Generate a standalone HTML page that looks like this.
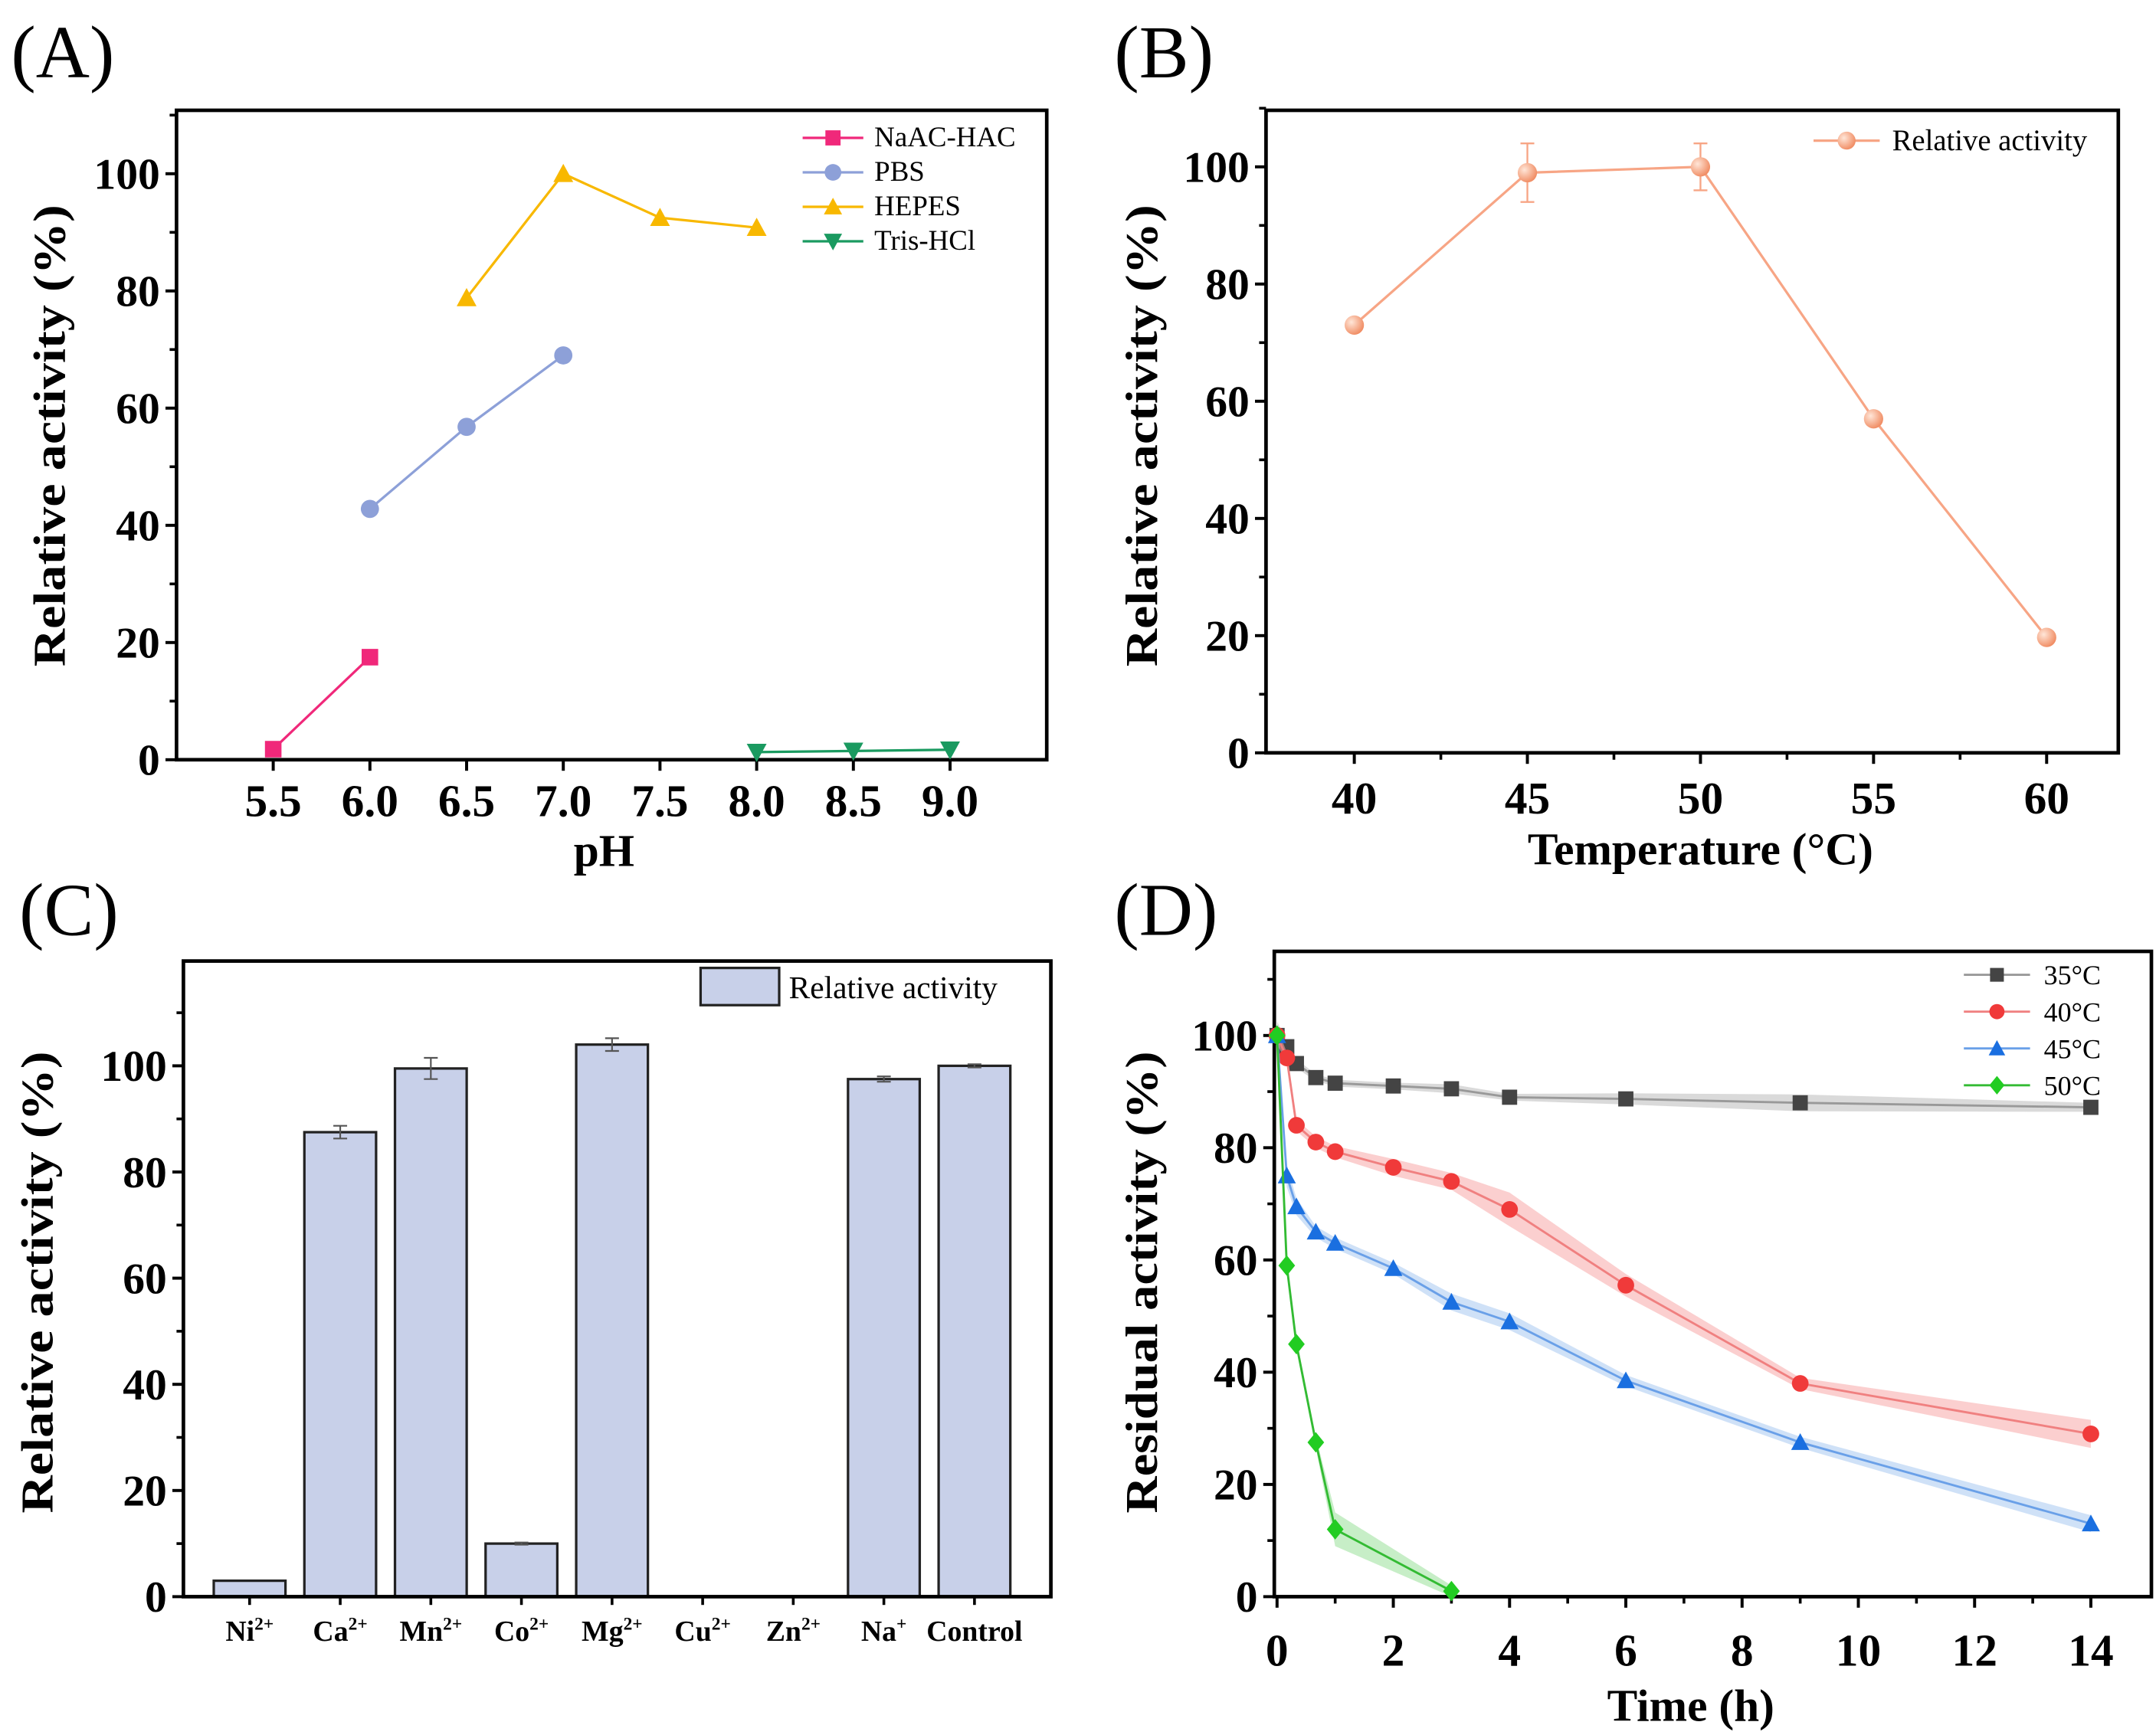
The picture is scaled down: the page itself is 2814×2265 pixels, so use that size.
<!DOCTYPE html>
<html><head><meta charset="utf-8"><style>
html,body{margin:0;padding:0;background:#fff}
svg{display:block}
text{font-family:"Liberation Serif",serif}
</style></head><body>
<svg id="fig" width="2814" height="2265" viewBox="0 0 1563.33 1258.33" xmlns="http://www.w3.org/2000/svg"></svg>
<script>
// ---- Panel A data ----
const aNaacX=[5.5,6.0], aNaacY=[1.8,17.5];
const aPbsX=[6.0,6.5,7.0], aPbsY=[42.8,56.8,69];
const aHepesX=[6.5,7.0,7.5,8.0], aHepesY=[78.8,100,92.5,90.8];
const aTrisX=[8.0,8.5,9.0], aTrisY=[1.3,1.5,1.7];
const aXTicks=[5.5,6.0,6.5,7.0,7.5,8.0,8.5,9.0];
const aXTickLabels=["5.5","6.0","6.5","7.0","7.5","8.0","8.5","9.0"];
const yTicks=[0,20,40,60,80,100];
// ---- Panel B data ----
const bTemps=[40,45,50,55,60], bAct=[73,99,100,57,19.7], bErr=[0.8,5,4,0.8,0.6];
const bXTicks=[40,45,50,55,60];
// ---- Panel C data ----
const cCats=["Ni","Ca","Mn","Co","Mg","Cu","Zn","Na","Control"];
const cSup=["2+","2+","2+","2+","2+","2+","2+","+",""];
const cVals=[3,87.5,99.5,10,104,0,0,97.5,100];
const cErrs=[0,1.2,2,0.2,1.2,0,0,0.5,0.3];
// ---- Panel D data ----
const dTimes=[0,0.167,0.333,0.667,1,2,3,4,6,9,14];
const d35=[100,98,95,92.5,91.5,91,90.5,89,88.7,88,87.2];
const d35e=[2.5,1,0.8,0.6,0.6,0.6,0.8,0.6,1,1.5,0.8];
const d40=[100,96,84,81,79.3,76.5,74,69,55.5,38,29];
const d40e=[1.5,1,1,1,1,1.5,1.5,3,2,1,2.5];
const d45=[100,75,69.5,65,63,58.5,52.5,49,38.5,27.5,13];
const d45e=[2,2,1.5,1,1,1,1.5,1.5,1,1,1.5];
const d50Times=[0,0.167,0.333,0.667,1,3];
const d50=[100,59,45,27.5,12,1];
const d50e=[1,1,1,1,3,1];
const dXTicks=[0,2,4,6,8,10,12,14];

const NS="http://www.w3.org/2000/svg";
const svg=document.getElementById('fig');
function mk(tag,attrs,parent){const e=document.createElementNS(NS,tag);for(const k in attrs)e.setAttribute(k,attrs[k]);(parent||svg).appendChild(e);return e;}
function lin(d0,d1,r0,r1){return v=>r0+(v-d0)*(r1-r0)/(d1-d0);}
function txt(x,y,s,size,opts,parent){const t=mk('text',Object.assign({x:x,y:y,'font-size':size},opts||{}),parent);t.textContent=s;return t;}

function frame(L,R,T,B,g){
  const r=mk('rect',{x:L,y:T,width:R-L,height:B-T,fill:'none',stroke:'#000','stroke-width':2.6},g);
  
  
}
function yAxis(g,L,ys,minors,lblX){
  yTicks.forEach(v=>{
    const l=mk('line',{x1:L-8,x2:L,y1:ys(v),y2:ys(v),stroke:'#000','stroke-width':2.2},g);
    
    
    const t=txt(L-12,ys(v)+11,String(v),32,{'text-anchor':'end','font-weight':'bold'},g);
    
    
  });
  minors.forEach(v=>{
    const l=mk('line',{x1:L-5,x2:L,y1:ys(v),y2:ys(v),stroke:'#000','stroke-width':2},g);
    
    
  });
}
function yTitle(g,x,y,s,len){
  const t=txt(0,0,s,33,{'text-anchor':'middle','font-weight':'bold',transform:`translate(${x},${y}) rotate(-90)`,textLength:len,lengthAdjust:'spacingAndGlyphs'},g);
  
  
}
function xTicks(g,B,xs,ticks,labels,ly,minor){
  ticks.forEach((v,i)=>{
    const l=mk('line',{x1:xs(v),x2:xs(v),y1:B,y2:B+8,stroke:'#000','stroke-width':2.2},g);
    
    
    const t=txt(xs(v),ly,labels[i],33,{'text-anchor':'middle','font-weight':'bold'},g);
    
    
  });
  (minor||[]).forEach(v=>{
    const l=mk('line',{x1:xs(v),x2:xs(v),y1:B,y2:B+5,stroke:'#000','stroke-width':2},g);
    
    
  });
}
function polyline(g,xs,ys,X,Y,color,w){
  const p=mk('polyline',{points:X.map((x,i)=>xs(x)+','+ys(Y[i])).join(' '),fill:'none',stroke:color,'stroke-width':w||1.8},g);
  return p;
}
function marker(g,shape,cx,cy,color,s){
  let e;
  if(shape==='sq') e=mk('rect',{x:cx-s,y:cy-s,width:2*s,height:2*s,fill:color},g);
  else if(shape==='ci') e=mk('circle',{cx:cx,cy:cy,r:s*1.1,fill:color},g);
  else if(shape==='tu') e=mk('polygon',{points:`${cx},${cy-s*1.2} ${cx-s*1.2},${cy+s} ${cx+s*1.2},${cy+s}`,fill:color},g);
  else if(shape==='td') e=mk('polygon',{points:`${cx},${cy+s*1.2} ${cx-s*1.2},${cy-s} ${cx+s*1.2},${cy-s}`,fill:color},g);
  else e=mk('polygon',{points:`${cx},${cy-s*1.35} ${cx+s*1.1},${cy} ${cx},${cy+s*1.35} ${cx-s*1.1},${cy}`,fill:color},g);
  return e;
}
function panelLabel(x,y,s){
  const t=txt(x,y,s,54,{});
  
  
}

// ===== Panel A =====
(function(){
  const g=mk('g',{});
  
  
  const L=128,R=759,T=80,B=551;
  const xs=lin(5,9.5,L,R), ys=lin(0,110,B,B-110*4.25);
  panelLabel(8,56,'(A)');
  frame(L,R,T,B,g);
  yAxis(g,L,ys,[10,30,50,70,90,110]);
  xTicks(g,B,xs,aXTicks,aXTickLabels,592);
  yTitle(g,47,316,'Relative activity (%)',335);
  const xt=txt(438,628,'pH',33,{'text-anchor':'middle','font-weight':'bold'},g);
  
  
  const series=[
    {n:'naac-hac',X:aNaacX,Y:aNaacY,c:'#f0287a',m:'sq',lab:'NaAC-HAC'},
    {n:'pbs',X:aPbsX,Y:aPbsY,c:'#8da0d8',m:'ci',lab:'PBS'},
    {n:'hepes',X:aHepesX,Y:aHepesY,c:'#f8b800',m:'tu',lab:'HEPES'},
    {n:'tris-hcl',X:aTrisX,Y:aTrisY,c:'#1a9a60',m:'td',lab:'Tris-HCl'}];
  series.forEach((s,k)=>{
    const pl=polyline(g,xs,ys,s.X,s.Y,s.c,1.8);
    
    
    s.X.forEach((x,i)=>{
      const m=marker(g,s.m,xs(x),ys(s.Y[i]),s.c,6);
      
      
    });
    const ly=100+k*25;
    const ll=mk('line',{x1:582,x2:626,y1:ly,y2:ly,stroke:s.c,'stroke-width':1.8},g);
    
    
    const lm=marker(g,s.m,604,ly,s.c,5.5);
    
    
    const lt=txt(634,ly+6,s.lab,20.5,{},g);
    
    
  });
})();

// ===== Panel B =====
(function(){
  const g=mk('g',{});
  
  
  const L=918,R=1536,T=80,B=546;
  const xs=lin(37.45,62.07,L,R), ys=lin(0,110,B,B-110*4.25);
  panelLabel(808,56,'(B)');
  frame(L,R,T,B,g);
  yAxis(g,L,ys,[10,30,50,70,90,110]);
  xTicks(g,B,xs,bXTicks,bXTicks.map(String),590,[42.5,47.5,52.5,57.5]);
  yTitle(g,839,316,'Relative activity (%)',335);
  const xt=txt(1233,627,'Temperature (°C)',33,{'text-anchor':'middle','font-weight':'bold'},g);
  
  
  const c='#f7a585';
  const defs=mk('defs',{},svg);
  const rg=mk('radialGradient',{id:'orb',cx:'0.35',cy:'0.35',r:'0.7'},defs);
  mk('stop',{offset:'0','stop-color':'#ffe6d8'},rg);
  mk('stop',{offset:'1','stop-color':'#f08a60'},rg);
  const pl=polyline(g,xs,ys,bTemps,bAct,c,1.8);
  
  
  bTemps.forEach((x,i)=>{
    const e=mk('path',{d:`M${xs(x)-5},${ys(bAct[i]+bErr[i])}h10M${xs(x)},${ys(bAct[i]+bErr[i])}V${ys(bAct[i]-bErr[i])}M${xs(x)-5},${ys(bAct[i]-bErr[i])}h10`,stroke:c,'stroke-width':1.3,fill:'none'},g);
    
    
    const m=mk('circle',{cx:xs(x),cy:ys(bAct[i]),r:7,fill:'url(#orb)'},g);
    
    
  });
  const ll=mk('line',{x1:1315,x2:1363,y1:102,y2:102,stroke:c,'stroke-width':1.8},g);
  
  
  const lm=mk('circle',{cx:1339,cy:102,r:6.5,fill:'url(#orb)'},g);
  
  
  const lt=txt(1372,109,'Relative activity',21.5,{},g);
  
  
})();

// ===== Panel C =====
(function(){
  const g=mk('g',{});
  
  
  const L=133,R=762,T=697,B=1158;
  const ys=lin(0,120,B,B-120*3.85);
  const xs=i=>181+i*65.7;
  panelLabel(14,678,'(C)');
  yAxis(g,L,ys,[10,30,50,70,90,110]);
  cCats.forEach((c,i)=>{
    const w=52, v=cVals[i];
    if(v>0){
      const r=mk('rect',{x:xs(i)-w/2,y:ys(v),width:w,height:B-ys(v),fill:'#c8d0e9',stroke:'#222','stroke-width':1.8},g);
      
      
    }
    if(cErrs[i]>0){
      const e=mk('path',{d:`M${xs(i)-5},${ys(v+cErrs[i])}h10M${xs(i)},${ys(v+cErrs[i])}V${ys(v-cErrs[i])}M${xs(i)-5},${ys(v-cErrs[i])}h10`,stroke:'#555','stroke-width':1.2,fill:'none'},g);
      
      
    }
    const tk=mk('line',{x1:xs(i),x2:xs(i),y1:B,y2:B+6,stroke:'#000','stroke-width':2},g);
    
    
    const t=txt(xs(i),1190,'',21,{'text-anchor':'middle','font-weight':'bold'},g);
    
    
    const t1=mk('tspan',{},t); t1.textContent=c;
    if(cSup[i]){const t2=mk('tspan',{'font-size':13,dy:-8},t); t2.textContent=cSup[i];}
  });
  frame(L,R,T,B,g);
  yTitle(g,38,930,'Relative activity (%)',335);
  const lr=mk('rect',{x:508,y:702,width:57,height:27,fill:'#c8d0e9',stroke:'#222','stroke-width':1.8},g);
  
  
  const lt=txt(572,724,'Relative activity',23,{},g);
  
  
})();

// ===== Panel D =====
(function(){
  const g=mk('g',{});
  
  
  const L=924,R=1560,T=690,B=1158;
  const xs=lin(0,15,926,926+15*42.15), ys=lin(0,115,B,B-115*4.07);
  panelLabel(808,678,'(D)');
  frame(L,R,T,B,g);
  yAxis(g,L,ys,[10,30,50,70,90,110]);
  xTicks(g,B,xs,dXTicks,dXTicks.map(String),1208,[1,3,5,7,9,11,13]);
  yTitle(g,839,930,'Residual activity (%)',335);
  const xt=txt(1226,1248,'Time (h)',33,{'text-anchor':'middle','font-weight':'bold'},g);
  
  
  const series=[
    {n:'35c',X:dTimes,Y:d35,E:d35e,c:'#444',lc:'#999',f:'#bbb',m:'sq',lab:'35°C'},
    {n:'40c',X:dTimes,Y:d40,E:d40e,c:'#f03a3a',lc:'#f08080',f:'#f7a8a8',m:'ci',lab:'40°C'},
    {n:'45c',X:dTimes,Y:d45,E:d45e,c:'#1a6fe0',lc:'#6aa0e8',f:'#a8c8f0',m:'tu',lab:'45°C'},
    {n:'50c',X:d50Times,Y:d50,E:d50e,c:'#22cc22',lc:'#33bb33',f:'#99e099',m:'di',lab:'50°C'}];
  series.forEach((s,k)=>{
    const up=s.X.map((x,i)=>xs(x)+','+ys(s.Y[i]+s.E[i]));
    const dn=s.X.map((x,i)=>xs(x)+','+ys(s.Y[i]-s.E[i])).reverse();
    const band=mk('polygon',{points:up.concat(dn).join(' '),fill:s.f,'fill-opacity':0.55},g);
    
    
    const pl=polyline(g,xs,ys,s.X,s.Y,s.lc,1.6);
    
    
    s.X.forEach((x,i)=>{
      const m=marker(g,s.m,xs(x),ys(s.Y[i]),s.c,5.5);
      
      
    });
    const ly=707+k*26.7;
    const ll=mk('line',{x1:1424,x2:1472,y1:ly,y2:ly,stroke:s.lc,'stroke-width':1.6},g);
    
    
    const lm=marker(g,s.m,1448,ly,s.c,5);
    
    
    const lt=txt(1482,ly+7,s.lab,20,{},g);
    
    
  });
})();
</script>
</body></html>
